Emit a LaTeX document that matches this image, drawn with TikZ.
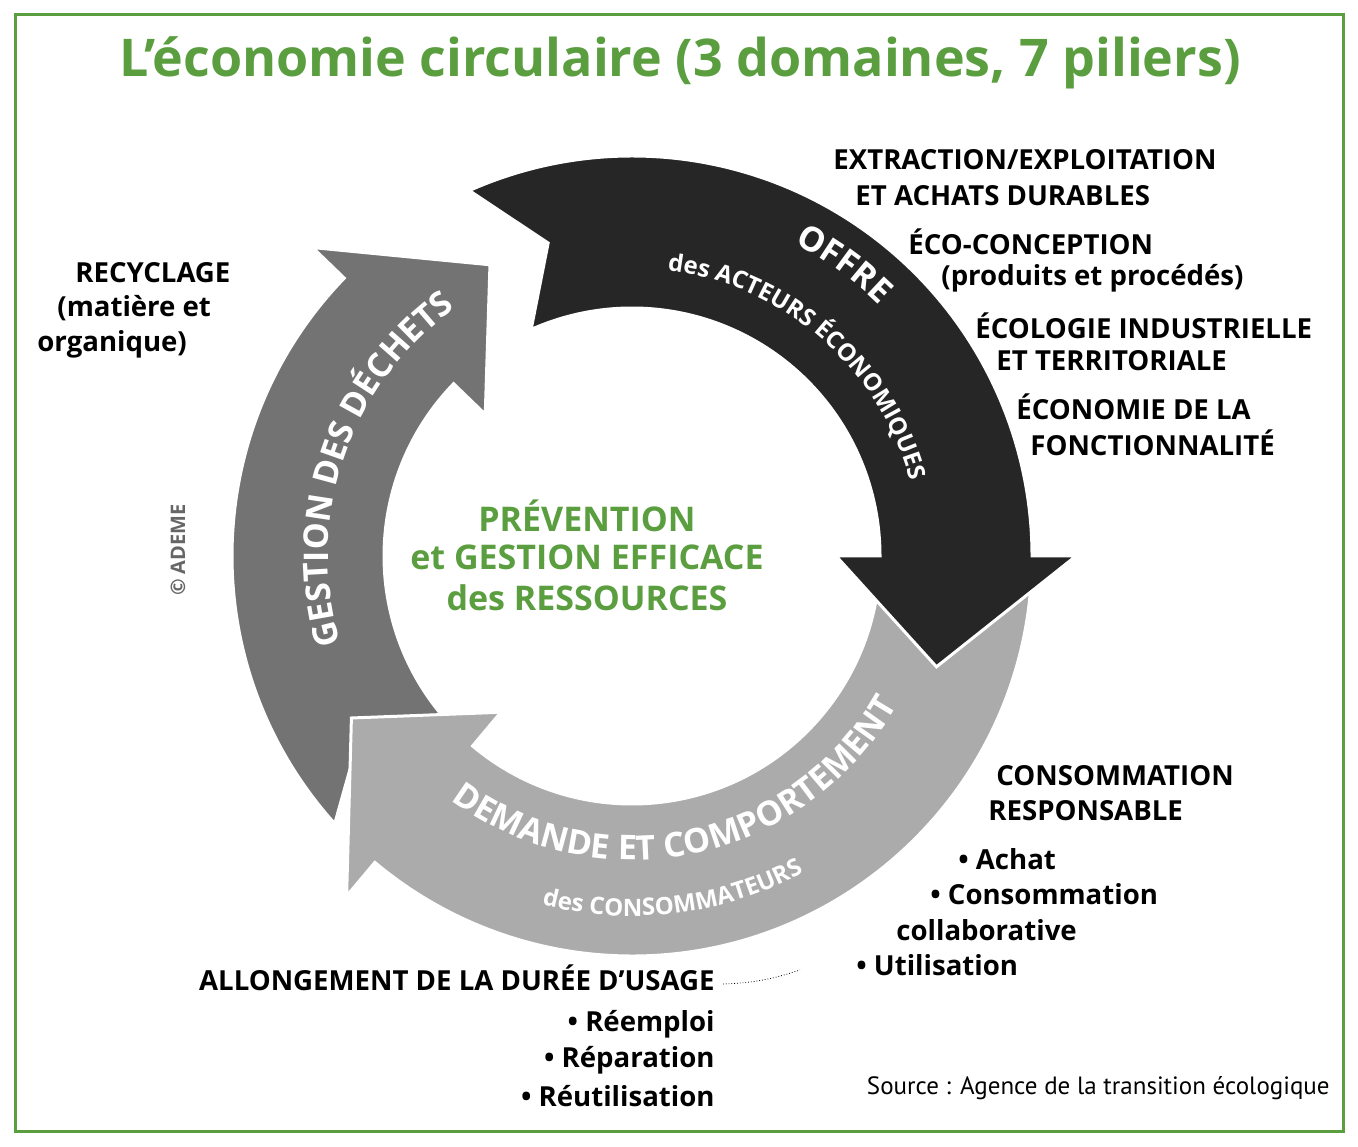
\documentclass[tikz,border=0pt]{standalone}
\usepackage{fontspec}
\setmainfont{Open Sans}
\newfontfamily\srcfont{PT Sans}
\usetikzlibrary{decorations.text}
\definecolor{ecogreen}{HTML}{5A9E3F}
\tikzset{
	lbl/.style={anchor=west, font=\bfseries\fontsize{13.8}{15}\selectfont, inner sep=0pt}, % side labels
	lble/.style={lbl, anchor=east},
	mid/.style={font=\bfseries\fontsize{17}{19}\selectfont, text=ecogreen, inner sep=0pt},
	ring/.style={draw=white, line width=1.5pt},
}
% ring arrow: start angle, end angle (clockwise), fill
\newcommand{\ringarrow}[3]{
	\fill[ring, fill=#3] (#1:200pt) arc[start angle=#1, end angle={#2+20}, radius=200pt]
		-- ({#2+20}:222pt) -- (#2:162pt) -- ({#2+20}:102pt) -- ({#2+20}:124pt)
		arc[start angle={#2+20}, end angle=#1, radius=124pt] -- ({#1-9}:162pt) -- cycle;
}
\newcommand{\arctext}[5]{% start, end, radius, text, size
	\path[decorate, decoration={text along path, text align=center, text color=white,
		text={|\bfseries\fontsize{#5}{#5}\selectfont|#4}}]
		(#1:#3) arc[start angle=#1, end angle=#2, radius=#3];
}
\begin{document}
\begin{tikzpicture}[x=0.5pt, y=0.5pt]
	\useasboundingbox (0,0) rectangle (1358,1146);
	\draw[ecogreen, line width=1.5pt] (15,15) rectangle (1343,1131);
	\node[font=\bfseries\fontsize{26}{30}\selectfont, text=ecogreen] (title) at (680,1083) {L’économie circulaire (3 domaines, 7 piliers)};

	\begin{scope}[shift={(632,590)}]
		\ringarrow{222}{116}{black!55}
		\ringarrow{-4}{-150}{black!33}
		\ringarrow{114}{-20}{black!85}
		\arctext{210}{112}{152pt}{GESTION DES DÉCHETS}{17}
		\arctext{82}{26}{176pt}{OFFRE}{17}
		\arctext{106}{-8}{144pt}{des ACTEURS ÉCONOMIQUES}{12}
		\arctext{214}{350}{152pt}{DEMANDE ET COMPORTEMENT}{17}
		\arctext{228}{326}{180pt}{des CONSOMMATEURS}{12}
	\end{scope}

	\node[mid] (prev) at (587,630) {PRÉVENTION};
	\node[mid] (gest) at (587,589) {et GESTION EFFICACE};
	\node[mid] (ress) at (587,548) {des RESSOURCES};

	\node[lbl] (extr) at (833,986) {EXTRACTION/EXPLOITATION};
	\node[lbl] (achat) at (855,950) {ET ACHATS DURABLES};
	\node[lbl] (eco) at (908,904) {ÉCO-CONCEPTION};
	\node[lbl] (prod) at (941,868) {(produits et procédés)};
	\node[lbl] (ecol) at (975,820) {ÉCOLOGIE INDUSTRIELLE};
	\node[lbl] (terr) at (996,785) {ET TERRITORIALE};
	\node[lbl] (econ) at (1016,739) {ÉCONOMIE DE LA};
	\node[lbl] (fonc) at (1030,703) {FONCTIONNALITÉ};

	\node[lbl] (recy) at (75,873) {RECYCLAGE};
	\node[lbl] (mat) at (57,838) {(matière et};
	\node[lbl] (org) at (37,802) {organique)};
	\node[rotate=90, text=black!60, font=\bfseries\fontsize{10}{12}\selectfont] (ademe) at (178,596) {© ADEME};

	\node[lbl] (cons) at (996,370) {CONSOMMATION};
	\node[lbl] (resp) at (988,335) {RESPONSABLE};
	\node[lbl] (ach) at (958,287) {• Achat};
	\node[lbl] (conso) at (930,252) {• Consommation};
	\node[lbl] (coll) at (896,216) {collaborative};
	\node[lbl] (util) at (856,181) {• Utilisation};

	\node[lble] (allo) at (715,168) {ALLONGEMENT DE LA DURÉE D’USAGE};
	\coordinate (alloend) at (800,176);
	\draw[densely dotted, thin] (allo.east) ++(8,-6) to[bend right=8] (alloend);
	\node[lble] (reem) at (715,122) {• Réemploi};
	\node[lble] (repa) at (715,86) {• Réparation};
	\node[lble] (reut) at (715,50) {• Réutilisation};

	\node[anchor=east, font=\srcfont\fontsize{12.5}{14}\selectfont, inner sep=0pt] (src) at (1330,58) {Source : Agence de la transition écologique};
\end{tikzpicture}
\end{document}
